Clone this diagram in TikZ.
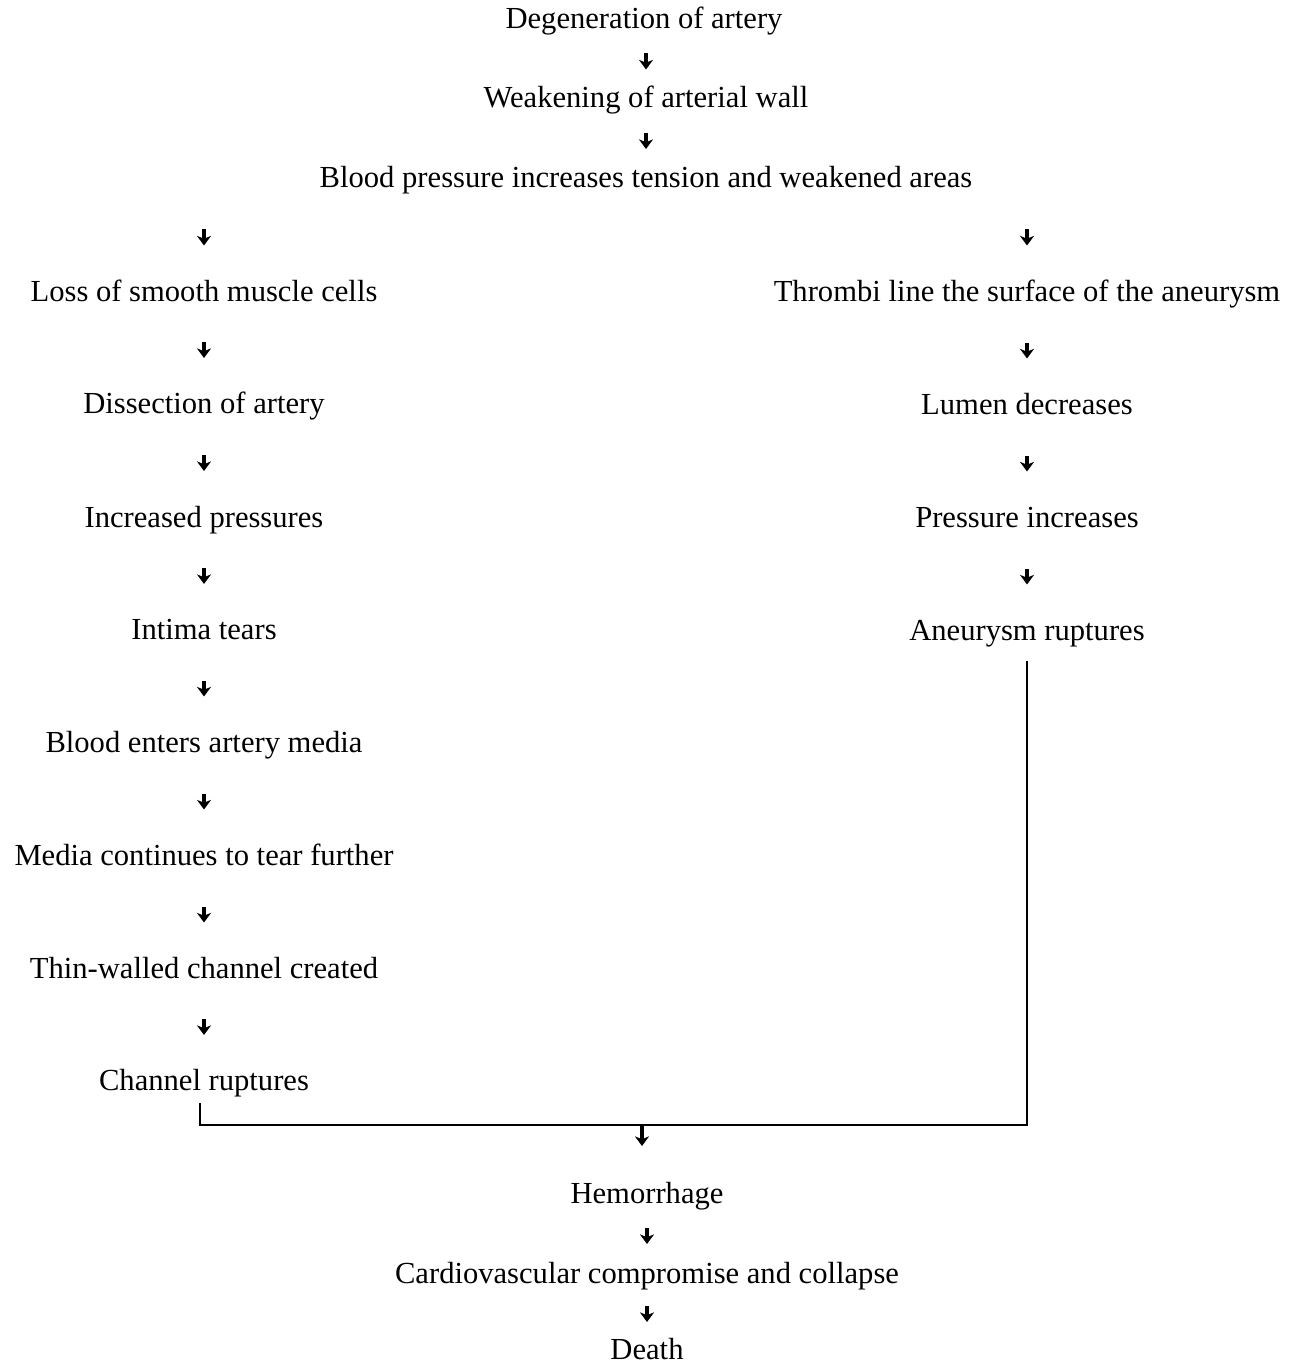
\documentclass[tikz,border=0pt]{standalone}
\usepackage{fontspec}
\setmainfont{Liberation Serif}
\usetikzlibrary{arrows.meta,calc}
\begin{document}
\begin{tikzpicture}[x=0.5pt,y=-0.5pt,
  lbl/.style={anchor=base,inner sep=0pt,font=\fontsize{15.3pt}{18pt}\selectfont},
  ln/.style={line width=1.2pt},
  arr/.style={line width=1.6pt,-{Stealth[length=4.8pt,width=7pt,inset=1.4pt]}}]
\useasboundingbox (0,0) rectangle (1305,1364);

% common trunk
\node[lbl] (deg)  at (644,29)  {Degeneration of artery};
\node[lbl] (weak) at (646,108) {Weakening of arterial wall};
\node[lbl] (bp)   at (646,188) {Blood pressure increases tension and weakened areas};

% dissection branch
\node[lbl] (loss) at (204,301)  {Loss of smooth muscle cells};
\node[lbl] (diss) at (204,413)  {Dissection of artery};
\node[lbl] (incp) at (204,527)  {Increased pressures};
\node[lbl] (inti) at (204,639)  {Intima tears};
\node[lbl] (ent)  at (204,752)  {Blood enters artery media};
\node[lbl] (med)  at (204,865)  {Media continues to tear further};
\node[lbl] (thin) at (204,978)  {Thin-walled channel created};
\node[lbl] (chan) at (204,1090) {Channel ruptures};

% aneurysm branch
\node[lbl] (thr)  at (1027,301) {Thrombi line the surface of the aneurysm};
\node[lbl] (lum)  at (1027,414) {Lumen decreases};
\node[lbl] (pre)  at (1027,527) {Pressure increases};
\node[lbl] (aneu) at (1027,640) {Aneurysm ruptures};

% outcome
\node[lbl] (hem)  at (647,1203) {Hemorrhage};
\node[lbl] (card) at (647,1283) {Cardiovascular compromise and collapse};
\node[lbl] (dth)  at (647,1359) {Death};

% short arrows between consecutive steps
\foreach \a/\b in {deg/weak,weak/bp,bp/loss,loss/diss,diss/incp,incp/inti,inti/ent,
                   ent/med,med/thin,thin/chan,bp/thr,thr/lum,lum/pre,pre/aneu,
                   hem/card,card/dth}{
  \coordinate (m) at ($(\a.base)!0.5!(\b.base)$);
  \draw[arr] ($(\b.base |- m)+(0,-15)$) -- ++(0,16);
}

% both ruptures join into the hemorrhage
\coordinate (jn) at (642,1125);
\draw[ln,shorten <=3pt,shorten >=7pt] ([xshift=-2pt]chan.south) |- (jn) -| (aneu.south);
\draw[arr] (jn) -- ++(0,21);
\end{tikzpicture}
\end{document}
